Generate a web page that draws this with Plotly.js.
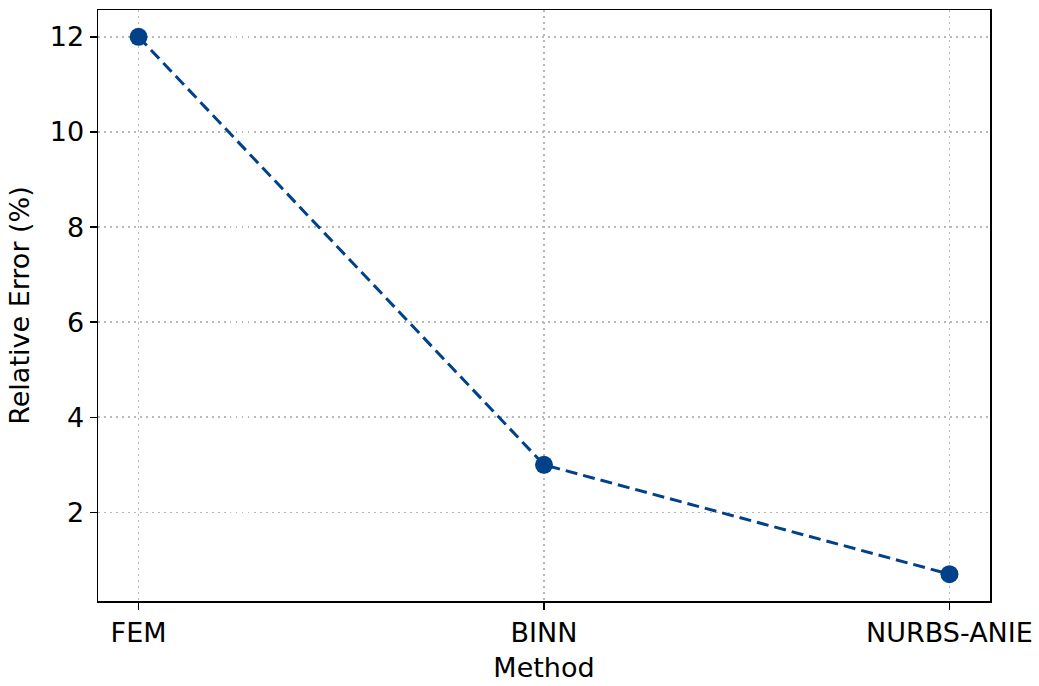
<!DOCTYPE html>
<html>
<head>
<meta charset="utf-8">
<script src="https://cdn.plot.ly/plotly-3.0.1.min.js"></script>
<style>
  html, body { margin: 0; padding: 0; background: #fff; }
  #chart { width: 1039px; height: 686px; }
</style>
</head>
<body>
<div id="chart"></div>
<script>
// methods compared and their relative error (%)
var methods = ['FEM', 'BINN', 'NURBS-ANIE'];
var relError = [12, 3, 0.7];

var trace = {
  type: 'scatter',
  mode: 'lines+markers',
  x: methods,
  y: relError,
  line: { color: '#00428a', width: 3, dash: '12px,6px' },
  marker: { color: '#00428a', size: 18 },
  showlegend: false,
  hoverinfo: 'x+y'
};

var axisBase = {
  showline: true,
  linecolor: '#000',
  linewidth: 1.5,
  mirror: true,
  ticks: 'outside',
  ticklen: 7,
  tickwidth: 1.4,
  tickcolor: '#000',
  showgrid: true,
  gridcolor: '#b8b8b8',
  gridwidth: 1.5,
  griddash: '1.5px,4.5px',
  zeroline: false,
  tickfont: { family: 'DejaVu Sans', size: 27, color: '#000' }
};

var layout = {
  width: 1039,
  height: 686,
  margin: { l: 98, r: 49, t: 10, b: 85 },
  paper_bgcolor: '#fff',
  plot_bgcolor: '#fff',
  font: { family: 'DejaVu Sans', color: '#000' },
  xaxis: Object.assign({}, axisBase, {
    type: 'category',
    range: [-0.1, 2.1],
    title: { text: 'Method', font: { family: 'DejaVu Sans', size: 27 }, standoff: 11 }
  }),
  yaxis: Object.assign({}, axisBase, {
    range: [0.135, 12.565],
    tickvals: [2, 4, 6, 8, 10, 12],
    title: { text: 'Relative Error (%)', font: { family: 'DejaVu Sans', size: 27 }, standoff: 12 }
  })
};

Plotly.newPlot('chart', [trace], layout, { displayModeBar: false, staticPlot: true });
</script>
</body>
</html>
